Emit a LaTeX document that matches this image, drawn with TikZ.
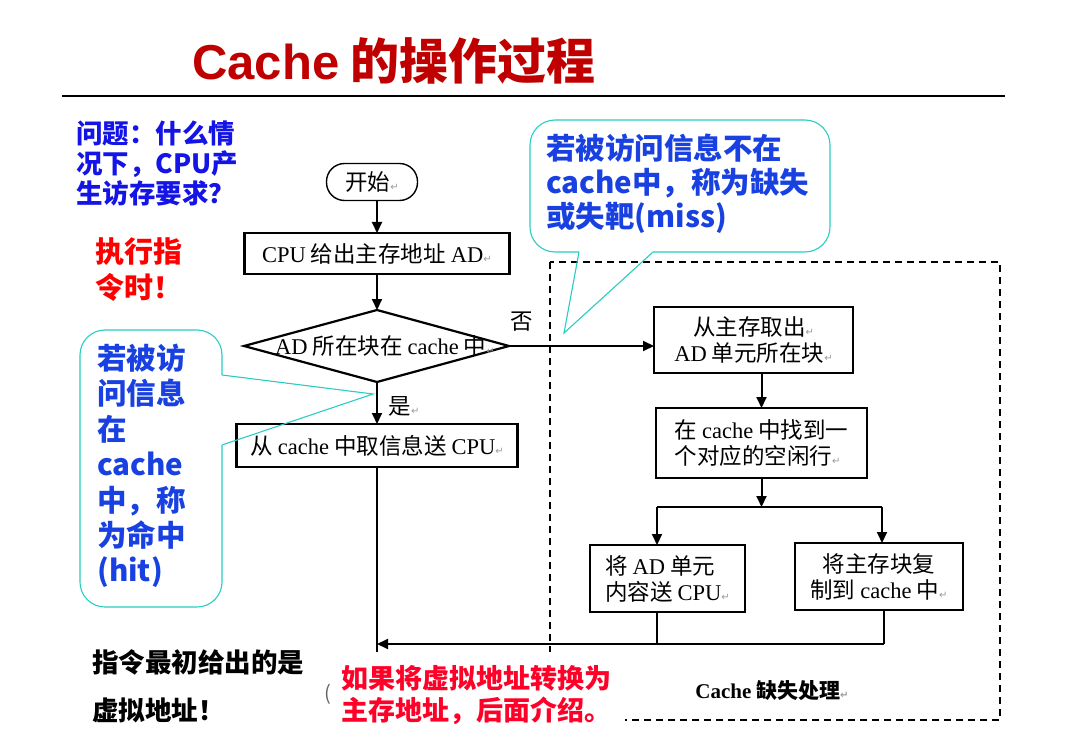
\documentclass[tikz,border=0pt]{standalone}
\usepackage{fontspec}
\setmainfont{Noto Sans CJK SC}
\newfontfamily\enrm{Liberation Serif}
\newfontfamily\ensf{Liberation Sans}
\newfontfamily\symf{DejaVu Sans}
\usetikzlibrary{arrows.meta}
\definecolor{titlered}{RGB}{192,0,0}
\definecolor{qblue}{RGB}{20,20,230}
\definecolor{cblue}{RGB}{25,65,225}
\definecolor{hred}{RGB}{255,0,0}
\definecolor{nred}{RGB}{255,0,40}
\definecolor{callcyan}{RGB}{40,205,195}
\newcommand{\pmk}{{\symf\fontsize{10}{10}\selectfont\color{black!40}↵}}
\newcommand{\fs}[1]{\fontsize{#1}{#1}\selectfont}
\tikzset{
  box/.style={draw, line width=2.4pt, inner sep=0pt, outer sep=0pt, align=center, font=\fontsize{22.5}{26}\selectfont},
  start/.style={draw, line width=1.4pt, rounded corners=18pt, minimum width=91pt, minimum height=37pt, inner sep=0pt, outer sep=0pt, font=\fs{22.5}},
  txt/.style={inner sep=0pt, outer sep=0pt, font=\fs{22.5}},
  ln/.style={line width=2pt},
  arr/.style={line width=2pt, -{Triangle[length=11pt,width=10pt]}},
  callout/.style={draw=callcyan, line width=1.1pt},
  note/.style={inner sep=0pt, anchor=west, align=left},
}

\begin{document}
\begin{tikzpicture}[x=1pt,y=-1pt]
\useasboundingbox (0,0) rectangle (1068,746);

\node[anchor=base west, inner sep=0pt, text=titlered, font=\fs{49}\bfseries] (title) at (192,80) {{\ensf Cache} 的操作过程};
\draw[line width=2.5pt] (62,96) -- (1005,96);

\node[note, text=qblue, font=\fontsize{26.5}{30}\selectfont\bfseries] (ask) at (76,163) {问题：什么情\\况下，CPU产\\生访存要求？};
\node[note, text=hred, font=\fontsize{29}{36}\selectfont\bfseries] (exec) at (95,270) {执行指\\令时！};
\node[note, text=black, font=\fontsize{26.5}{48}\selectfont\bfseries] (virt) at (92,686) {指令最初给出的是\\虚拟地址！};

\draw[dashed, dash pattern=on 7pt off 5pt, line width=1.8pt] (550,262) rectangle (1000,720);

\node[start] (begin) at (372,182) {开始\pmk};
\node[box, minimum width=265pt, minimum height=41pt] (give) at (377,253.5) {{\enrm CPU} 给出主存地址 {\enrm AD}\pmk};
\coordinate (decL) at (244,346);
\coordinate (decT) at (377,310);
\coordinate (decR) at (509,346);
\coordinate (decB) at (377,382);
\draw[line width=2.2pt] (decL) -- (decT) -- (decR) -- (decB) -- cycle;
\node[txt] (dec) at (385,346) {{\enrm AD} 所在块在 {\enrm cache} 中\pmk};
\node[box, minimum width=281pt, minimum height=43pt] (hit) at (377,445.5) {从 {\enrm cache} 中取信息送 {\enrm CPU}\pmk};
\node[txt] (yes) at (404,406) {是\pmk};
\node[txt] (no) at (522,322) {否};

\node[box, minimum width=199pt, minimum height=66pt] (fetch) at (753.5,340) {从主存取出\pmk\\{\enrm AD} 单元所在块\pmk};
\node[box, minimum width=211pt, minimum height=70pt, align=left] (find) at (761.5,443) {在 {\enrm cache} 中找到一\\个对应的空闲行\pmk};
\node[box, minimum width=155pt, minimum height=67pt, align=left] (send) at (667.5,578.5) {将 {\enrm AD} 单元\\内容送 {\enrm CPU}\pmk};
\node[box, minimum width=168pt, minimum height=67pt] (copy) at (879,576.5) {将主存块复\\制到 {\enrm cache} 中\pmk};
\node[txt, font=\fs{21}\bfseries] (misstitle) at (772,691) {{\enrm Cache} 缺失处理\pmk};

\coordinate (split) at (761.5,507);
\coordinate (splitL) at (657,507);
\coordinate (splitR) at (882,507);
\coordinate (merge) at (377,644);
\coordinate (mergeR) at (884,644);
\coordinate (hitEnd) at (377,656);

\draw[arr] (give.north |- begin.south) -- (give.north);
\draw[arr] (give) -- (decT);
\draw[arr] (decB) -- (hit);
\draw[ln] (hit) -- (hitEnd);
\draw[arr] (decR) -- (decR -| fetch.west);
\draw[arr] (find.north |- fetch.south) -- (find.north);
\draw[arr] (find) -- (split);
\draw[ln] (splitL) -- (splitR);
\foreach \c/\b in {splitL/send, splitR/copy} {
  \draw[arr] (\c) -- (\c |- \b.north);
}
\draw[ln] (splitL |- send.south) -- (splitL |- merge);
\draw[ln] (mergeR |- copy.south) -- (mergeR);
\draw[arr] (mergeR) -- (merge);

\coordinate (hitTip) at (373,394);
\draw[callout, rounded corners=25pt] (222,375) -- (222,330) -- (80,330) -- (80,607) -- (222,607) -- (222,445);
\draw[callout] (222,375) -- (hitTip) -- (222,445);
\node[note, text=cblue, font=\fontsize{29.5}{35.4}\selectfont\bfseries] (hitnote) at (97,466) {若被访\\问信息\\在\\cache\\中，称\\为命中\\(hit)};

\coordinate (missTip) at (564,333);
\draw[callout, rounded corners=25pt] (579,252) -- (530,252) -- (530,120) -- (830,120) -- (830,252) -- (653,252);
\draw[callout] (579,252) -- (missTip) -- (653,252);
\node[note, text=cblue, font=\fontsize{29.5}{34}\selectfont\bfseries] (missnote) at (546,184) {若被访问信息不在\\cache中，称为缺失\\或失靶(miss)};

\node[note, text=nred, fill=white, inner xsep=14pt, inner ysep=13pt, font=\fontsize{27}{32}\selectfont\bfseries] (later) at (327,695) {如果将虚拟地址转换为\\主存地址，后面介绍。};
\node[txt, text=black!60, font=\fs{20}] (paren) at (328,694) {(};
\end{tikzpicture}
\end{document}
